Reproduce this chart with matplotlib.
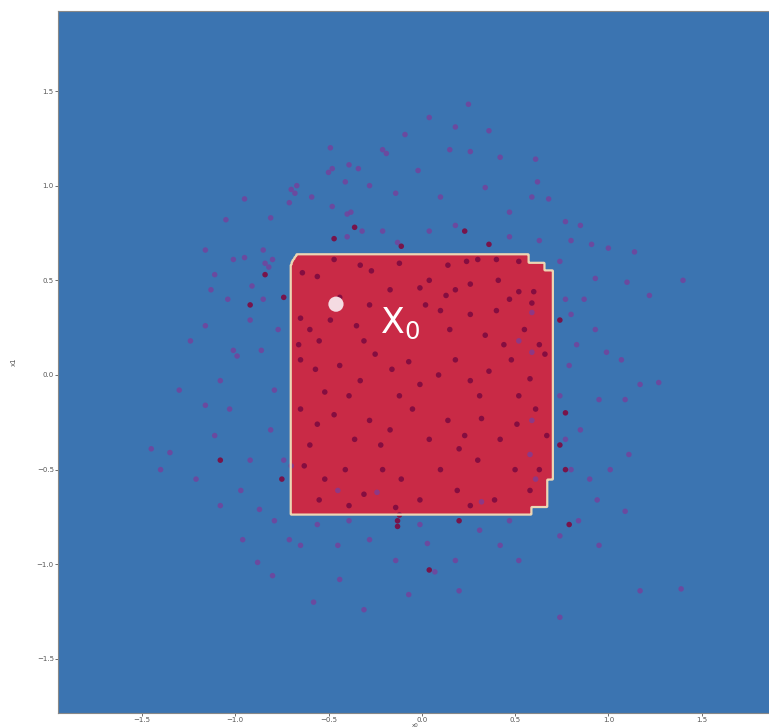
import numpy as np
import matplotlib.pyplot as plt
from matplotlib.path import Path

# outline of the region the classifier labels as class 1
region_x = [-0.702, -0.702, -0.691, -0.670, 0.573, 0.573, 0.659, 0.659, 0.702,
            0.702, 0.675, 0.675, 0.589, 0.589]
region_y = [-0.737, 0.579, 0.605, 0.637, 0.637, 0.595, 0.595, 0.553, 0.553,
            -0.553, -0.553, -0.700, -0.700, -0.737]

# sampled neighbourhood points, class 0
neg_x = [-0.49, -0.21, -0.19, -0.39, -0.34, -0.50, -0.48, -0.41, -0.28, -0.14,
         -0.70, -0.67, -0.68, -0.59, -0.71, -0.95, -0.48, -1.05, -0.81, -0.40,
         -0.38, -0.32, -0.21, -0.40, -0.13, -1.16, -0.85, -1.01, -0.95, -0.84,
         -0.82, -0.80, -1.11, -1.13,
         0.25, 0.04, -0.09, 0.18, 0.36, 0.15, 0.61, 0.42, 0.26, -0.02,
         0.10, 0.34, 0.47, 0.59, 0.62, 0.68, 0.77, 0.85, 0.80, 0.91,
         1.00, 1.14, 0.18, 0.04, 0.47, 0.63,
         0.74, 0.93, 1.10, 1.22, 1.40, 0.80, 0.87, 0.83, 0.99, 1.07,
         1.17, 1.09, 1.27, 0.95, 0.85, 0.80, 0.90, 1.01, 1.11, 0.94,
         1.09, 0.84, 0.74, 0.95, 1.17, 1.39, 0.74, 0.77, 0.79, 0.93,
         0.74, 0.77,
         -1.45, -1.35, -1.21, -1.11, -1.03, -1.16, -1.01, -0.99, -1.08, -0.92,
         -0.86, -0.85, -0.91, -1.04, -1.16, -1.24, -0.79, -0.81, -0.92, -0.97,
         -1.08, -0.87, -1.30, -1.40, -0.74, -0.77,
         -0.58, -0.44, -0.31, -0.07, -0.14, 0.07, 0.18, 0.03, -0.28, -0.45,
         -0.65, -0.56, -0.71, -0.80, -0.88, -0.96, -0.79, 0.31, 0.42, 0.52,
         0.20, 0.47, -0.39, -0.01,
         0.59, 0.52, 0.59, 0.59, 0.58, 0.61, -0.45, -0.24, 0.32, -0.70]
neg_y = [1.20, 1.19, 1.17, 1.11, 1.09, 1.07, 1.09, 1.02, 1.00, 0.96,
         0.98, 1.00, 0.96, 0.94, 0.91, 0.93, 0.89, 0.82, 0.83, 0.85,
         0.86, 0.76, 0.76, 0.73, 0.70, 0.66, 0.66, 0.61, 0.62, 0.59,
         0.57, 0.61, 0.53, 0.45,
         1.43, 1.36, 1.27, 1.31, 1.29, 1.19, 1.14, 1.15, 1.18, 1.08,
         0.94, 0.99, 0.86, 0.94, 1.02, 0.93, 0.81, 0.79, 0.71, 0.69,
         0.67, 0.65, 0.79, 0.76, 0.73, 0.71,
         0.60, 0.51, 0.49, 0.42, 0.50, 0.32, 0.40, 0.16, 0.12, 0.08,
         -0.05, -0.13, -0.04, -0.13, -0.29, -0.50, -0.55, -0.50, -0.42, -0.66,
         -0.72, -0.77, -0.85, -0.90, -1.14, -1.13, -1.28, 0.40, 0.05, 0.24,
         -0.11, -0.34,
         -0.39, -0.41, -0.55, -0.32, -0.18, -0.16, 0.13, 0.10, -0.03, 0.29,
         0.13, 0.40, 0.47, 0.40, 0.26, 0.18, -0.08, -0.29, -0.45, -0.61,
         -0.69, -0.71, -0.08, -0.50, -0.45, 0.24,
         -1.20, -1.08, -1.24, -1.16, -0.98, -1.04, -0.98, -0.89, -0.87, -0.90,
         -0.90, -0.79, -0.87, -1.06, -0.99, -0.87, -0.77, -0.82, -0.90, -0.98,
         -1.14, -0.77, -0.77, -0.79,
         0.33, 0.18, 0.12, -0.24, -0.42, -0.55, -0.61, -0.62, -0.67, -0.48]

# sampled neighbourhood points, class 1
pos_x = [-0.36, -0.47, -0.84, -0.74, -0.11, 0.23, 0.36, 0.74, 0.77, 0.74,
         0.77, 0.79, -0.92, -0.75, -1.08, -0.13, -0.12, -0.13, 0.04, 0.20,
         -0.47, -0.33, -0.27, -0.12, 0.14, 0.24, 0.30, 0.40, 0.52, 0.04,
         0.18, 0.26, 0.41, 0.52, 0.60, -0.56, -0.64, -0.44, -0.17, -0.01,
         0.13, 0.47, 0.59,
         -0.65, -0.60, -0.49, -0.35, -0.31, -0.28, 0.02, 0.10, 0.15, 0.26,
         0.34, 0.44, 0.55, 0.63, 0.40, -0.66, -0.55,
         -0.65, -0.57, -0.44, -0.33, -0.25, -0.16, -0.07, -0.01, 0.09, 0.18,
         0.26, 0.36, 0.48, 0.58, 0.66, -0.52, -0.39, -0.12, 0.31, 0.52,
         -0.65, -0.56, -0.47, -0.36, -0.28, -0.17, -0.05, 0.04, 0.14, 0.23,
         0.32, 0.42, 0.51, 0.61, 0.67, -0.60, -0.22, 0.20,
         -0.63, -0.52, -0.41, -0.31, -0.21, -0.11, -0.01, 0.10, 0.19, 0.30,
         0.39, 0.50, 0.58, -0.55, -0.39, -0.14, 0.26, 0.63]
pos_y = [0.78, 0.72, 0.53, 0.41, 0.68, 0.76, 0.69, 0.29, -0.20, -0.37,
         -0.50, -0.79, 0.37, -0.55, -0.45, -0.77, -0.74, -0.80, -1.03, -0.77,
         0.61, 0.58, 0.55, 0.59, 0.58, 0.60, 0.61, 0.61, 0.60, 0.50,
         0.45, 0.48, 0.50, 0.44, 0.44, 0.52, 0.54, 0.41, 0.45, 0.46,
         0.42, 0.40, 0.38,
         0.30, 0.24, 0.29, 0.26, 0.18, 0.37, 0.37, 0.34, 0.24, 0.32,
         0.21, 0.16, 0.24, 0.16, 0.34, 0.16, 0.18,
         0.08, 0.03, 0.05, -0.03, 0.11, 0.03, 0.07, -0.05, 0.00, 0.08,
         -0.03, 0.02, 0.08, -0.02, 0.11, -0.09, -0.11, -0.11, -0.11, -0.11,
         -0.18, -0.26, -0.21, -0.34, -0.24, -0.29, -0.18, -0.34, -0.24, -0.32,
         -0.23, -0.34, -0.26, -0.18, -0.32, -0.37, -0.37, -0.39,
         -0.48, -0.55, -0.50, -0.63, -0.50, -0.55, -0.66, -0.50, -0.61, -0.45,
         -0.66, -0.50, -0.61, -0.66, -0.69, -0.70, -0.69, -0.50]

# the instance being explained
x0_point = (-0.46, 0.374)

fig = plt.figure(figsize=(7.69, 7.28), dpi=100)
ax = fig.add_axes([0.0754, 0.021, 0.928, 0.964])

xx, yy = np.meshgrid(np.linspace(-2.0, 2.0, 801), np.linspace(-1.9, 2.0, 781))
grid = np.column_stack([xx.ravel(), yy.ravel()])
zz = Path(np.column_stack([region_x, region_y])).contains_points(grid)
zz = zz.reshape(xx.shape).astype(float)

ax.contourf(xx, yy, zz, levels=[-0.5, 0.5, 1.5], colors=['#3b74b1', '#c92a46'])
ax.contour(xx, yy, zz, levels=[0.5], colors='#ecd6b4', linewidths=1.6)

ax.scatter(neg_x, neg_y, s=16, c='#7a3d9a', alpha=0.75, edgecolors='none')
ax.scatter(pos_x, pos_y, s=16, c='#7e0a40', alpha=0.9, edgecolors='none')

ax.scatter([x0_point[0]], [x0_point[1]], s=120, c='#f4dbe2', edgecolors='none', zorder=5)
ax.text(-0.225, 0.222, r'X$_0$', fontsize=25, color='white', ha='left', va='baseline', zorder=5)

ax.set_xlim(-1.95, 1.875)
ax.set_ylim(-1.784, 1.923)
ax.set_xticks([-1.5, -1.0, -0.5, 0.0, 0.5, 1.0, 1.5])
ax.set_yticks([-1.5, -1.0, -0.5, 0.0, 0.5, 1.0, 1.5])
ax.tick_params(labelsize=5, labelcolor='#555555', length=2, width=0.6, color='#555555', pad=1)
ax.set_xlabel('x0', fontsize=4, color='#555555')
ax.xaxis.set_label_coords(0.5, -0.0152)
ax.set_ylabel('x1', fontsize=5, color='#555555', labelpad=14)
for s in ax.spines.values():
    s.set_color('#888888')

fig.savefig('out.png', dpi=100)
